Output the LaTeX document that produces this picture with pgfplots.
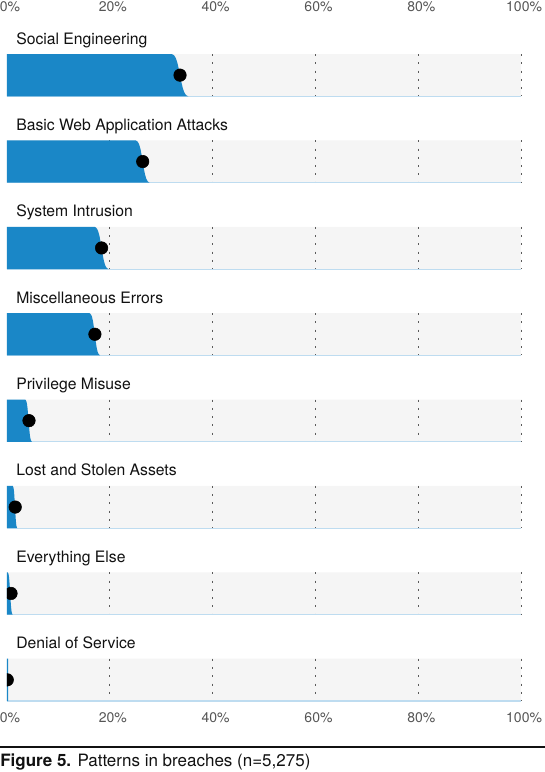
\documentclass[border=0pt]{standalone}
\usepackage{pgfplots}
\pgfplotsset{compat=1.18}
\usepackage{pgfplotstable}
\usepackage{fontspec}
\setmainfont{TeX Gyre Heros}

\definecolor{vblue}{RGB}{26,135,199}
\definecolor{bandgray}{RGB}{245,245,245}
\definecolor{lineblue}{RGB}{190,220,240}
\definecolor{gridc}{RGB}{90,90,90}
\definecolor{tickgray}{RGB}{85,85,85}
\definecolor{labelc}{RGB}{17,17,17}

% right edge of each blue area, dy = offset from band top (px units)
\pgfplotstableread{
dy     se     bwaa   si     misc   priv  lost  els   dos
0      0      0      0      0      0     0     0     0
0      32.04  25.04  17.04  16.04  3.55  1.11  0.14  0.2
0.85   32.37  25.32  17.32  16.25  3.68  1.20  0.24  0.2
2.12   32.62  25.53  17.53  16.42  3.78  1.27  0.31  0.2
4.23   32.85  25.72  17.72  16.56  3.88  1.34  0.38  0.2
8.46   33.13  25.96  17.96  16.74  3.99  1.41  0.46  0.2
14.81  33.42  26.20  18.20  16.92  4.10  1.49  0.55  0.2
21.15  33.66  26.40  18.40  17.08  4.20  1.56  0.62  0.2
27.50  33.90  26.60  18.60  17.24  4.30  1.63  0.69  0.2
33.84  34.19  26.84  18.84  17.42  4.41  1.71  0.78  0.2
38.07  34.47  27.08  19.08  17.60  4.52  1.78  0.86  0.2
40.19  34.70  27.27  19.27  17.74  4.62  1.85  0.93  0.2
41.45  34.95  27.48  19.48  17.91  4.72  1.92  1.00  0.2
42.30  35.28  27.76  19.76  18.12  4.85  2.01  1.10  0.2
42.30  0      0      0      0      0     0     0     0
}\shape

\begin{document}
\begin{tikzpicture}
\pgfplotsset{
  every axis/.append style={
    scale only axis, width=386.1pt, height=485.625pt,
    xmin=0, xmax=100.15, ymin=54, ymax=701.5, y dir=reverse,
    axis line style={draw=none}, tick style={draw=none},
    xtick={0,20,40,60,80,100},
    xticklabels={0\%,20\%,40\%,60\%,80\%,100\%},
  },
}
\begin{axis}[
  clip marker paths=true,
  xticklabel style={anchor=base, inner sep=0pt, yshift=-15.4pt, xshift=2.3pt,
    text=tickgray, font=\fontsize{10.5}{12}\selectfont},
  ytick={54.0,140.4,226.8,313.1,399.5,485.9,572.3,658.7},
  yticklabels={Social Engineering, Basic Web Application Attacks, System Intrusion,
    Miscellaneous Errors, Privilege Misuse, Lost and Stolen Assets,
    Everything Else, Denial of Service},
  yticklabel style={anchor=base west, inner sep=0pt, xshift=6.75pt, yshift=7.5pt,
    text=labelc, font=\fontsize{11.8}{13}\selectfont},
]
% grey bands
\addplot[xbar, bar width=42.3, bar shift=0pt, fill=bandgray, draw=none]
  coordinates {(100,75.15) (100,161.55) (100,247.95) (100,334.25)
               (100,420.65) (100,507.05) (100,593.45) (100,679.85)};
% dotted gridlines inside the bands
\pgfplotsinvokeforeach{20,40,60,80,100}{
  \addplot[gridc, line width=0.75pt, dash pattern=on 1.5pt off 4.7pt,
    unbounded coords=jump]
    coordinates {(#1,54.0) (#1,96.3) (#1,nan) (#1,140.4) (#1,182.7) (#1,nan)
                 (#1,226.8) (#1,269.1) (#1,nan) (#1,313.1) (#1,355.4) (#1,nan)
                 (#1,399.5) (#1,441.8) (#1,nan) (#1,485.9) (#1,528.2) (#1,nan)
                 (#1,572.3) (#1,614.6) (#1,nan) (#1,658.7) (#1,701.0)};
}
% light baseline under each band
\pgfplotsinvokeforeach{96.3,182.7,269.1,355.4,441.8,528.2,614.6,701.0}{
  \addplot[lineblue, line width=0.9pt] coordinates {(0,#1) (100,#1)};
}
% blue areas
\addplot[fill=vblue, draw=none] table[x=se,   y expr=\thisrow{dy}+54.0] {\shape};
\addplot[fill=vblue, draw=none] table[x=bwaa, y expr=\thisrow{dy}+140.4] {\shape};
\addplot[fill=vblue, draw=none] table[x=si,   y expr=\thisrow{dy}+226.8] {\shape};
\addplot[fill=vblue, draw=none] table[x=misc, y expr=\thisrow{dy}+313.1] {\shape};
\addplot[fill=vblue, draw=none] table[x=priv, y expr=\thisrow{dy}+399.5] {\shape};
\addplot[fill=vblue, draw=none] table[x=lost, y expr=\thisrow{dy}+485.9] {\shape};
\addplot[fill=vblue, draw=none] table[x=els,  y expr=\thisrow{dy}+572.3] {\shape};
\addplot[fill=vblue, draw=none] table[x=dos,  y expr=\thisrow{dy}+658.7] {\shape};
% point estimates
\addplot[only marks, mark=*, mark size=4.7pt, black]
  coordinates {(33.66,75.15) (26.4,161.55) (18.4,247.95) (17.1,334.25)
               (4.28,420.65) (1.6,507.05) (0.78,593.45) (0.05,679.85)};
\end{axis}
% top tick labels
\begin{axis}[
  xticklabel pos=upper, ytick=\empty,
  xticklabel style={anchor=base, inner sep=0pt, yshift=31.7pt, xshift=2.3pt,
    text=tickgray, font=\fontsize{10.5}{12}\selectfont},
]
\end{axis}
% caption rule and caption
\draw[line width=1.5pt, color=labelc] (-5.25pt,-34.35pt) -- (403.5pt,-34.35pt);
\node[anchor=base west, inner sep=0pt, text=labelc, font=\fontsize{12.75}{14}\selectfont]
  at (-5.25pt,-48.9pt) {\textbf{Figure 5.} Patterns in breaches (n=5,275)};
\pgfresetboundingbox
\path[use as bounding box] (-5.25pt,-52.875pt) rectangle (403.5pt,526.125pt);
\end{tikzpicture}
\end{document}
